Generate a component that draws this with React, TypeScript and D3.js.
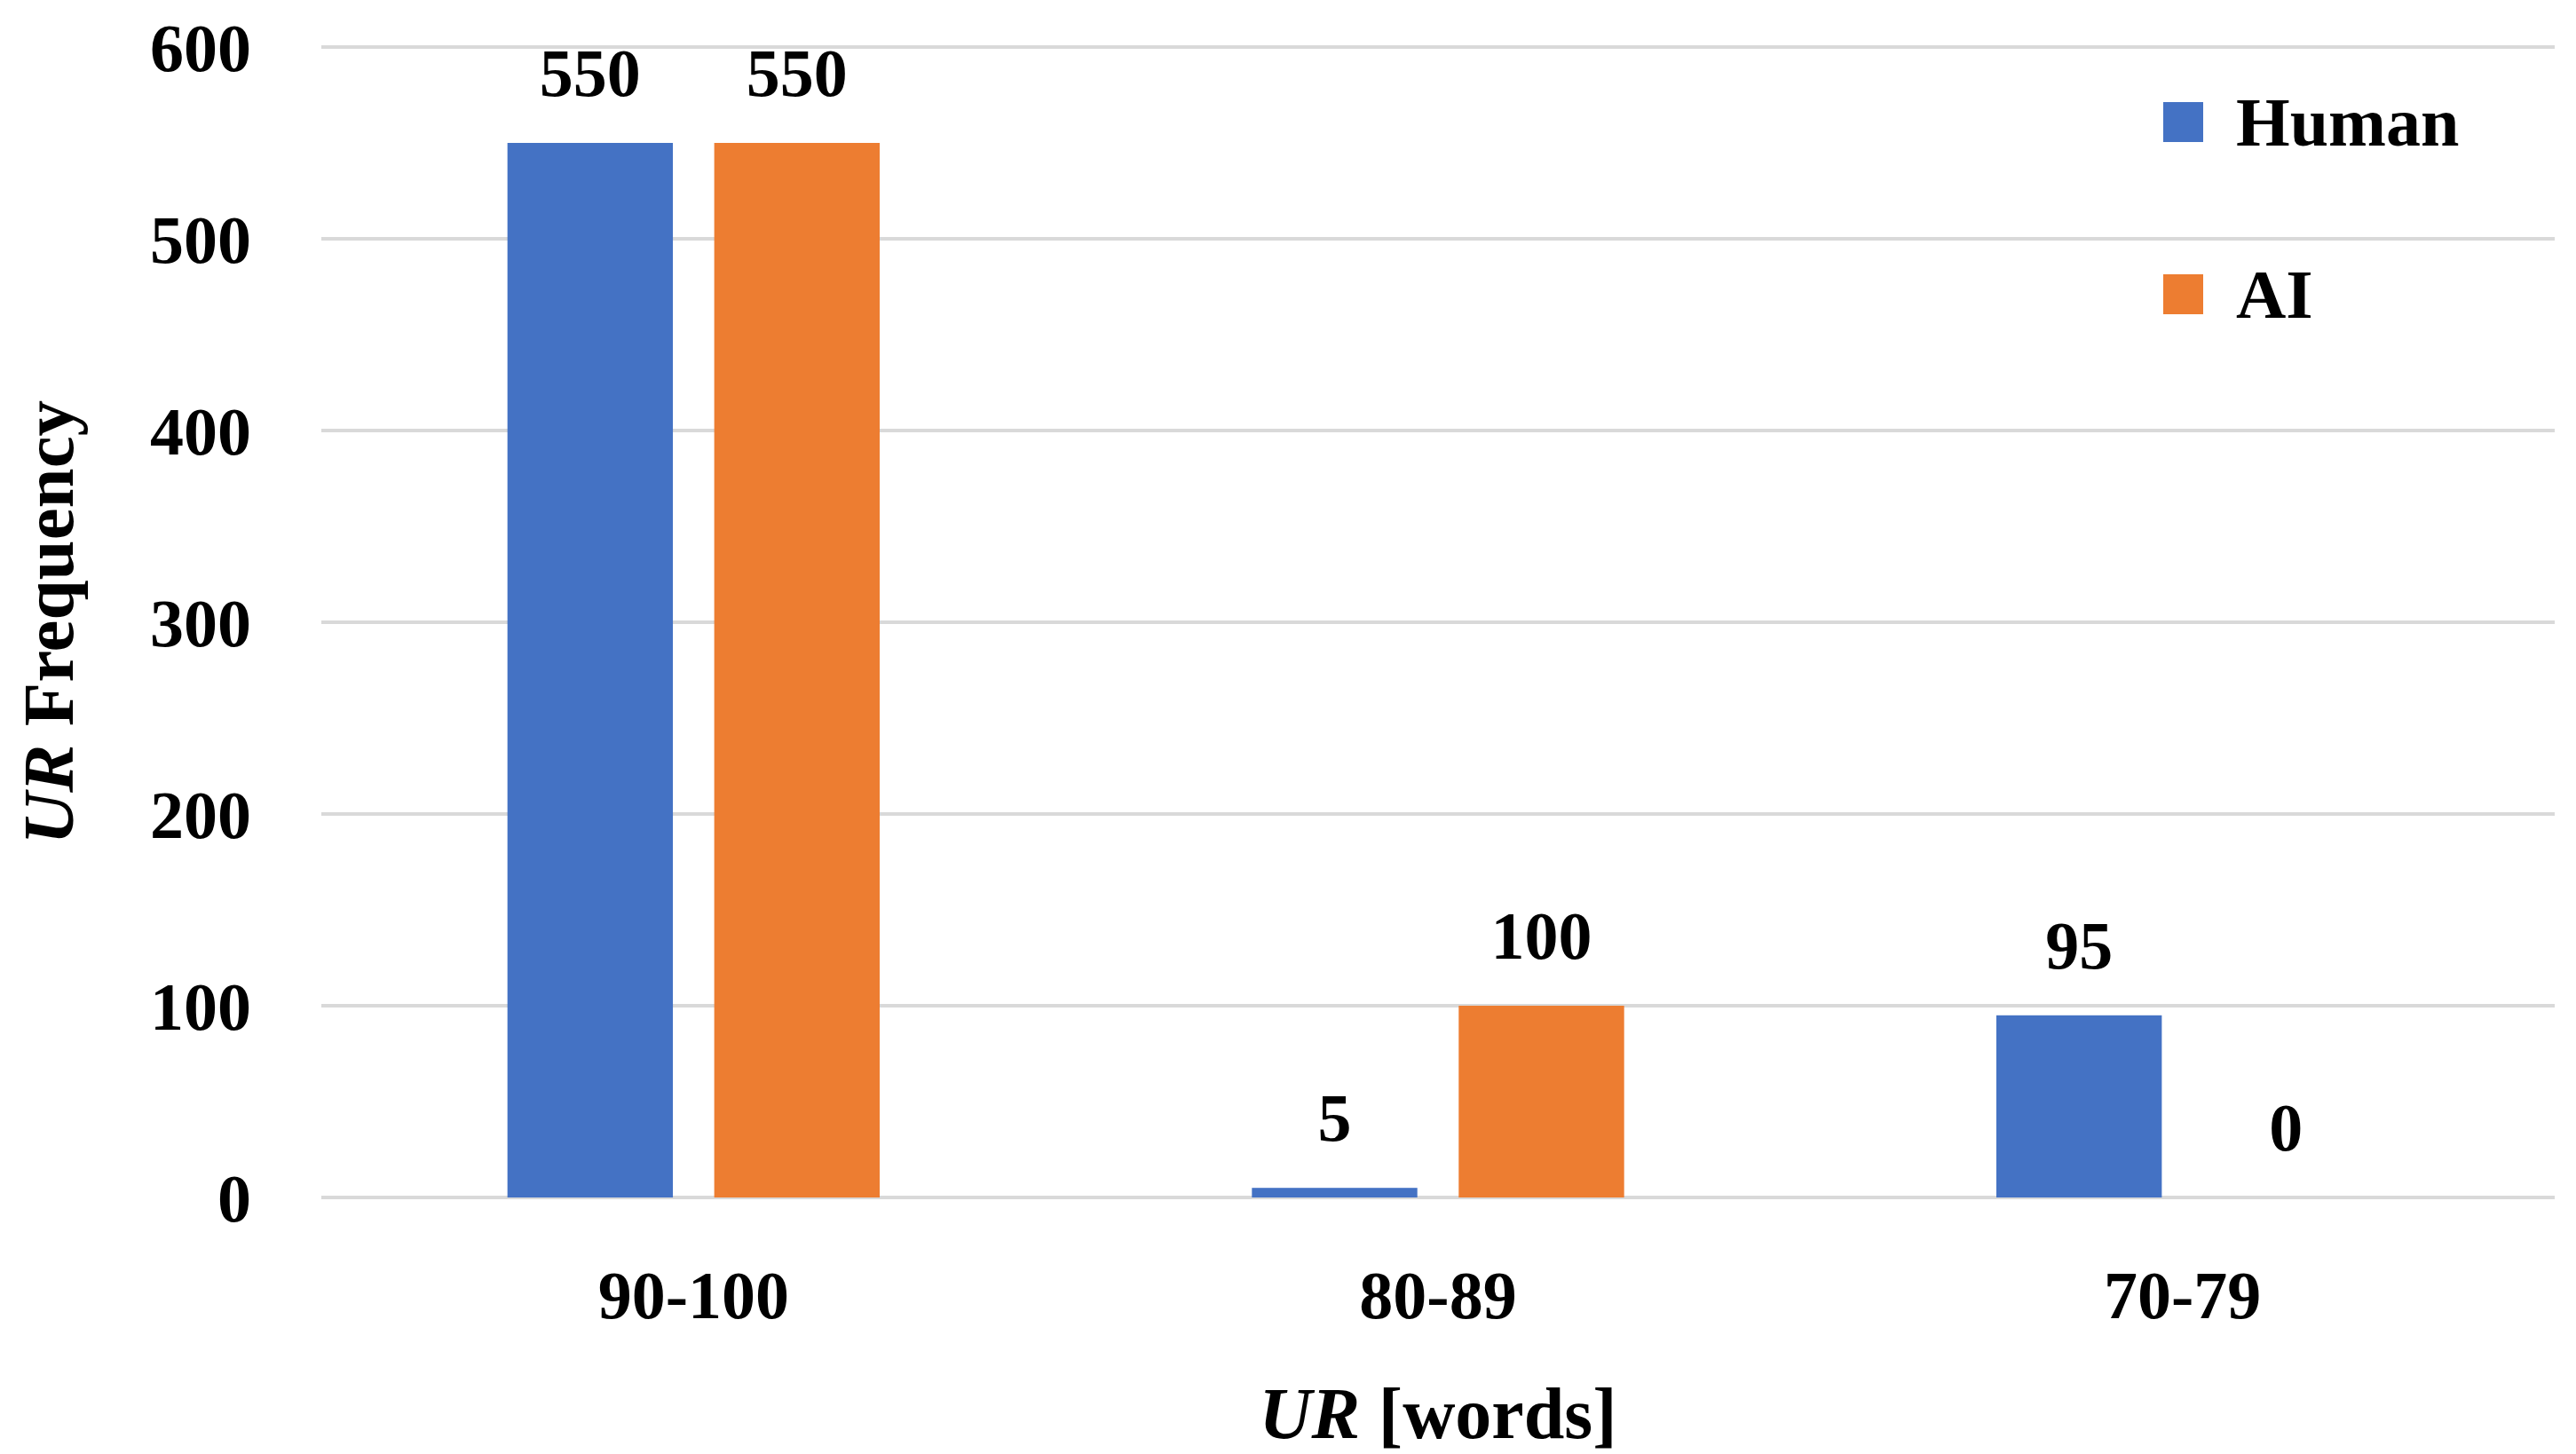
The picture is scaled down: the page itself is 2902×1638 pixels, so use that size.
import React, { useRef, useEffect } from "react";
import * as d3 from "d3";

// ── Data ──────────────────────────────────────────────────────────────────────

const CATEGORIES = ["90-100", "80-89", "70-79"];
const SERIES = ["Human", "AI"];
const HUMAN = [550, 5, 95];
const AI = [550, 100, 0];
const Y_TICKS = [0, 100, 200, 300, 400, 500, 600];

const COLORS: Record<string, string> = {
  Human: "#4472C4",
  AI: "#ED7D31",
};

const FONT = "'Liberation Serif', 'Times New Roman', serif";

// ── Chart ─────────────────────────────────────────────────────────────────────

const W = 2902;
const H = 1638;
const plot = { left: 362, right: 2878, top: 53, bottom: 1349 };

export default function App() {
  const svgRef = useRef<SVGSVGElement>(null);

  useEffect(() => {
    if (!svgRef.current) return;
    const svg = d3.select(svgRef.current);
    svg.selectAll("*").remove();

    const values: Record<string, number[]> = { Human: HUMAN, AI: AI };

    const x0 = d3
      .scaleBand<string>()
      .domain(CATEGORIES)
      .range([plot.left, plot.right])
      .paddingInner(0.5)
      .paddingOuter(0.25);

    const x1 = d3
      .scaleBand<string>()
      .domain(SERIES)
      .range([0, x0.bandwidth()])
      .paddingInner(0.2);

    const y = d3.scaleLinear().domain([0, 600]).range([plot.bottom, plot.top]);

    // gridlines
    svg
      .append("g")
      .selectAll("line")
      .data(Y_TICKS)
      .join("line")
      .attr("x1", plot.left)
      .attr("x2", plot.right)
      .attr("y1", (d) => y(d))
      .attr("y2", (d) => y(d))
      .attr("stroke", "#d9d9d9")
      .attr("stroke-width", 4);

    // y tick labels
    svg
      .append("g")
      .selectAll("text")
      .data(Y_TICKS)
      .join("text")
      .attr("x", 283)
      .attr("y", (d) => y(d))
      .attr("dy", "0.35em")
      .attr("text-anchor", "end")
      .attr("font-family", FONT)
      .attr("font-weight", "bold")
      .attr("font-size", 76)
      .attr("fill", "#000")
      .text((d) => d);

    // bars + labels
    const groups = svg
      .append("g")
      .selectAll("g")
      .data(CATEGORIES)
      .join("g")
      .attr("transform", (d) => `translate(${x0(d)},0)`);

    groups
      .selectAll("rect")
      .data((_, i) => SERIES.map((s) => ({ key: s, value: values[s][i] })))
      .join("rect")
      .attr("x", (d) => x1(d.key)!)
      .attr("width", x1.bandwidth())
      .attr("y", (d) => y(d.value))
      .attr("height", (d) => y(0) - y(d.value))
      .attr("fill", (d) => COLORS[d.key]);

    groups
      .selectAll("text")
      .data((_, i) => SERIES.map((s) => ({ key: s, value: values[s][i] })))
      .join("text")
      .attr("x", (d) => x1(d.key)! + x1.bandwidth() / 2)
      .attr("y", (d) => y(d.value) - 53)
      .attr("text-anchor", "middle")
      .attr("font-family", FONT)
      .attr("font-weight", "bold")
      .attr("font-size", 76)
      .attr("fill", "#000")
      .text((d) => d.value);

    // category labels
    svg
      .append("g")
      .selectAll("text")
      .data(CATEGORIES)
      .join("text")
      .attr("x", (d) => x0(d)! + x0.bandwidth() / 2)
      .attr("y", 1485)
      .attr("text-anchor", "middle")
      .attr("font-family", FONT)
      .attr("font-weight", "bold")
      .attr("font-size", 76)
      .attr("fill", "#000")
      .text((d) => d);

    // x axis title
    const xt = svg
      .append("text")
      .attr("x", (plot.left + plot.right) / 2)
      .attr("y", 1620)
      .attr("text-anchor", "middle")
      .attr("font-family", FONT)
      .attr("font-weight", "bold")
      .attr("font-size", 82)
      .attr("fill", "#000");
    xt.append("tspan").attr("font-style", "italic").text("UR");
    xt.append("tspan").text(" [words]");

    // y axis title
    const yt = svg
      .append("text")
      .attr("transform", `translate(82,701) rotate(-90)`)
      .attr("text-anchor", "middle")
      .attr("font-family", FONT)
      .attr("font-weight", "bold")
      .attr("font-size", 81)
      .attr("fill", "#000");
    yt.append("tspan").attr("font-style", "italic").text("UR");
    yt.append("tspan").text(" Frequency");

    // legend
    const legend = svg
      .append("g")
      .selectAll("g")
      .data(SERIES)
      .join("g")
      .attr("transform", (_, i) => `translate(2437,${115 + i * 194})`);

    legend
      .append("rect")
      .attr("width", 45)
      .attr("height", 45)
      .attr("fill", (d) => COLORS[d]);

    legend
      .append("text")
      .attr("x", 82)
      .attr("y", 22)
      .attr("dy", "0.35em")
      .attr("font-family", FONT)
      .attr("font-weight", "bold")
      .attr("font-size", 78)
      .attr("fill", "#000")
      .text((d) => d);
  }, []);

  return (
    <div style={{ position: "absolute", left: 0, top: 0 }}>
      <svg ref={svgRef} width={W} height={H} style={{ display: "block", background: "#fff" }} />
    </div>
  );
}
